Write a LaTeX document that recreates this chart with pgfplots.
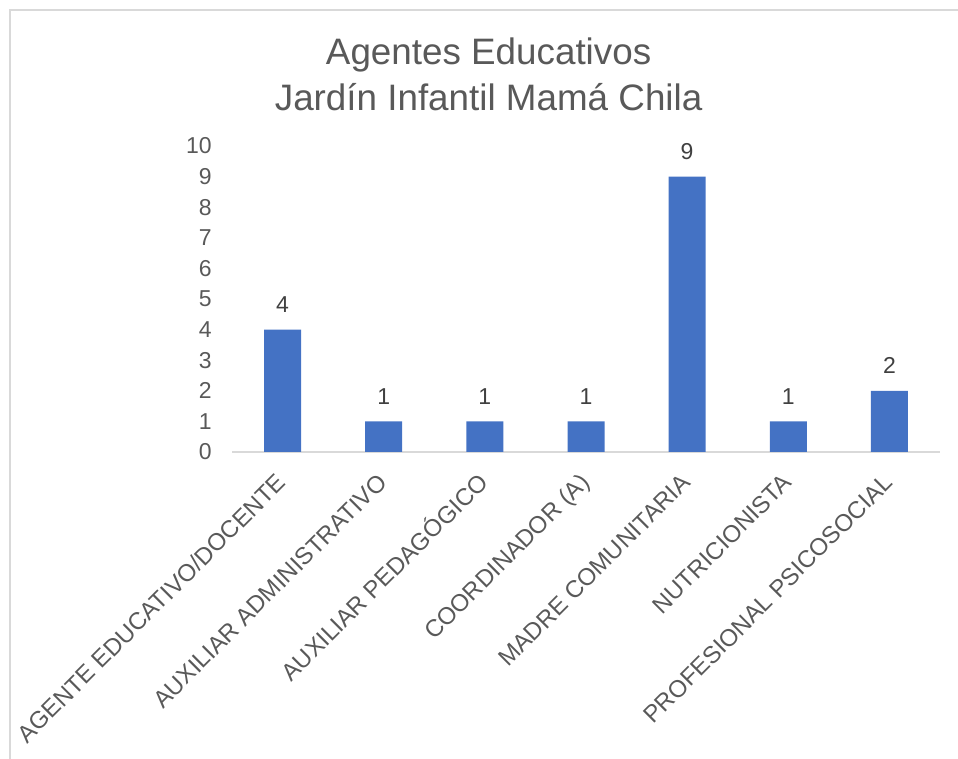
\documentclass[border=0pt]{standalone}
\usepackage{fontspec}
\setmainfont{Liberation Sans}
\usepackage{pgfplots}
\pgfplotsset{compat=1.18}

\definecolor{barblue}{HTML}{4472C4}
\definecolor{txtgray}{HTML}{595959}
\definecolor{lblgray}{HTML}{404040}
\definecolor{linegray}{HTML}{D9D9D9}

\begin{document}
\begin{tikzpicture}
\path[use as bounding box] (0,0) rectangle (479pt,379.5pt);
% chart frame (only top and left edges show in the crop)
\draw[linegray, line width=0.8pt] (5pt,0) -- (5pt,374.5pt) -- (479pt,374.5pt);

\node[anchor=base, text=txtgray, font=\fontsize{18.4}{22}\selectfont] at (244.3pt,347pt) {Agentes Educativos};
\node[anchor=base, text=txtgray, font=\fontsize{18.4}{22}\selectfont] at (244.3pt,324pt) {Jardín Infantil Mamá Chila};

\begin{axis}[
    at={(116pt,153.5pt)}, anchor=south west,
    scale only axis,
    width=354pt, height=153pt,
    xmin=-0.5, xmax=6.5,
    ymin=0, ymax=10,
    xtick={0,...,6},
    ytick={0,...,10},
    xticklabels={AGENTE EDUCATIVO/DOCENTE, AUXILIAR ADMINISTRATIVO, AUXILIAR PEDAGÓGICO, COORDINADOR (A), MADRE COMUNITARIA, NUTRICIONISTA, PROFESIONAL PSICOSOCIAL},
    axis x line*=bottom,
    axis y line*=left,
    x axis line style={linegray, line width=1pt, -},
    y axis line style={draw=none},
    major tick length=0pt,
    /pgf/number format/assume math mode=true,
    tick label style={text=txtgray},
    yticklabel style={font=\fontsize{11.5}{13}\selectfont, anchor=east, inner sep=0pt, xshift=-10pt},
    xticklabel style={font=\fontsize{12}{14}\selectfont, inner sep=0pt, xshift=2.5pt, yshift=-16pt, rotate=45, anchor=base east},
    clip=false,
]
\addplot[ybar, bar width=18.5pt, fill=barblue, draw=none,
    nodes near coords,
    every node near coord/.append style={font=\fontsize{11.5}{13}\selectfont, text=lblgray, anchor=base, inner sep=0pt, yshift=8.6pt}]
    coordinates {(0,4) (1,1) (2,1) (3,1) (4,9) (5,1) (6,2)};
\end{axis}
\end{tikzpicture}
\end{document}
